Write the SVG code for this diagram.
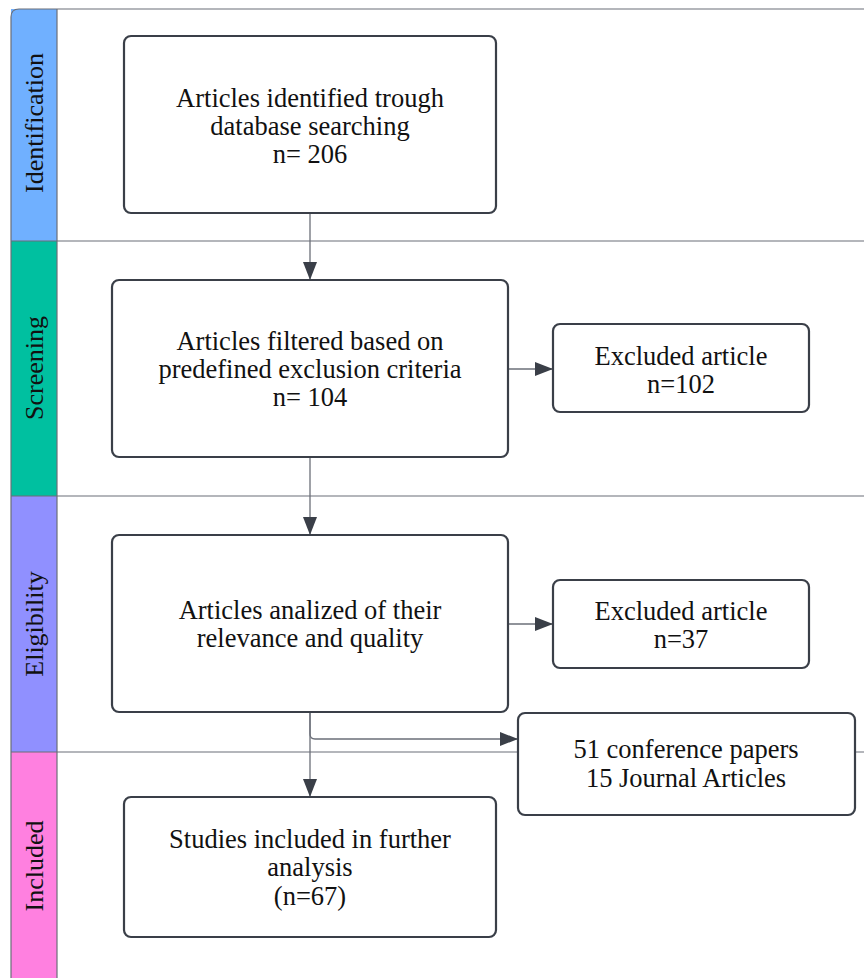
<svg xmlns="http://www.w3.org/2000/svg" width="864" height="978" viewBox="0 0 864 978">
<style>
.lane{stroke:#6b6f78;stroke-width:1.2;fill:none}
.box{fill:#ffffff;stroke:#3a3f48;stroke-width:2.2}
.t{font-family:Liberation Serif,Times New Roman,Times,serif;font-size:26.5px;fill:#111;text-anchor:middle}
.side{font-family:Liberation Serif,Times New Roman,Times,serif;font-size:26px;fill:#111;text-anchor:middle}
.conn{stroke:#6b6f78;stroke-width:1.3;fill:none}
</style>
<defs>
<marker id="ah" markerUnits="userSpaceOnUse" markerWidth="20" markerHeight="14" refX="18" refY="7" orient="auto">
<path d="M0,0 L18,7 L0,14 Z" fill="#3a3f48"/>
</marker>
</defs>
<rect width="864" height="978" fill="#ffffff"/>
<g id="lanes">
<rect x="11" y="9" width="46" height="232" fill="#70b0ff"/>
<rect x="11" y="241" width="46" height="255" fill="#00c0a0"/>
<rect x="11" y="496" width="46" height="256" fill="#9090ff"/>
<rect x="11" y="752" width="46" height="226" fill="#ff80e0"/>
<path class="lane" d="M11,978 L11,17 Q11,9 19,9 L864,9"/>
<line class="lane" x1="57" y1="9" x2="57" y2="978"/>
<line class="lane" x1="11" y1="241" x2="864" y2="241"/>
<line class="lane" x1="11" y1="496" x2="864" y2="496"/>
<line class="lane" x1="11" y1="752" x2="864" y2="752"/>
<text class="side" transform="translate(43,123) rotate(-90)">Identification</text>
<text class="side" transform="translate(43,368) rotate(-90)">Screening</text>
<text class="side" transform="translate(43,624) rotate(-90)">Eligibility</text>
<text class="side" transform="translate(43,866) rotate(-90)">Included</text>
</g>
<g id="connectors">
<line class="conn" x1="310" y1="213" x2="310" y2="280" marker-end="url(#ah)"/>
<line class="conn" x1="310" y1="457" x2="310" y2="535" marker-end="url(#ah)"/>
<line class="conn" x1="508" y1="369" x2="553" y2="369" marker-end="url(#ah)"/>
<line class="conn" x1="508" y1="624" x2="553" y2="624" marker-end="url(#ah)"/>
<line class="conn" x1="310" y1="712" x2="310" y2="797" marker-end="url(#ah)"/>
<path class="conn" d="M310,712 L310,734 Q310,739 315,739 L518,739" marker-end="url(#ah)"/>
</g>
<g id="n1">
<rect class="box" x="124" y="36" width="372" height="177" rx="7"/>
<text class="t" x="310" y="107">Articles identified trough</text>
<text class="t" x="310" y="135">database searching</text>
<text class="t" x="310" y="163">n= 206</text>
</g>
<g id="n2">
<rect class="box" x="112" y="280" width="396" height="177" rx="7"/>
<text class="t" x="310" y="350">Articles filtered based on</text>
<text class="t" x="310" y="378">predefined exclusion criteria</text>
<text class="t" x="310" y="406">n= 104</text>
</g>
<g id="n3">
<rect class="box" x="553" y="324" width="256" height="88" rx="7"/>
<text class="t" x="681" y="365">Excluded article</text>
<text class="t" x="681" y="393">n=102</text>
</g>
<g id="n4">
<rect class="box" x="112" y="535" width="396" height="177" rx="7"/>
<text class="t" x="310" y="619">Articles analized of their</text>
<text class="t" x="310" y="647">relevance and quality</text>
</g>
<g id="n5">
<rect class="box" x="553" y="580" width="256" height="88" rx="7"/>
<text class="t" x="681" y="620">Excluded article</text>
<text class="t" x="681" y="648">n=37</text>
</g>
<g id="n6">
<rect class="box" x="518" y="713" width="337" height="102" rx="7"/>
<text class="t" x="686" y="758">51 conference papers</text>
<text class="t" x="686" y="787">15 Journal Articles</text>
</g>
<g id="n7">
<rect class="box" x="124" y="797" width="372" height="140" rx="7"/>
<text class="t" x="310" y="848">Studies included in further</text>
<text class="t" x="310" y="876">analysis</text>
<text class="t" x="310" y="905">(n=67)</text>
</g>
</svg>
